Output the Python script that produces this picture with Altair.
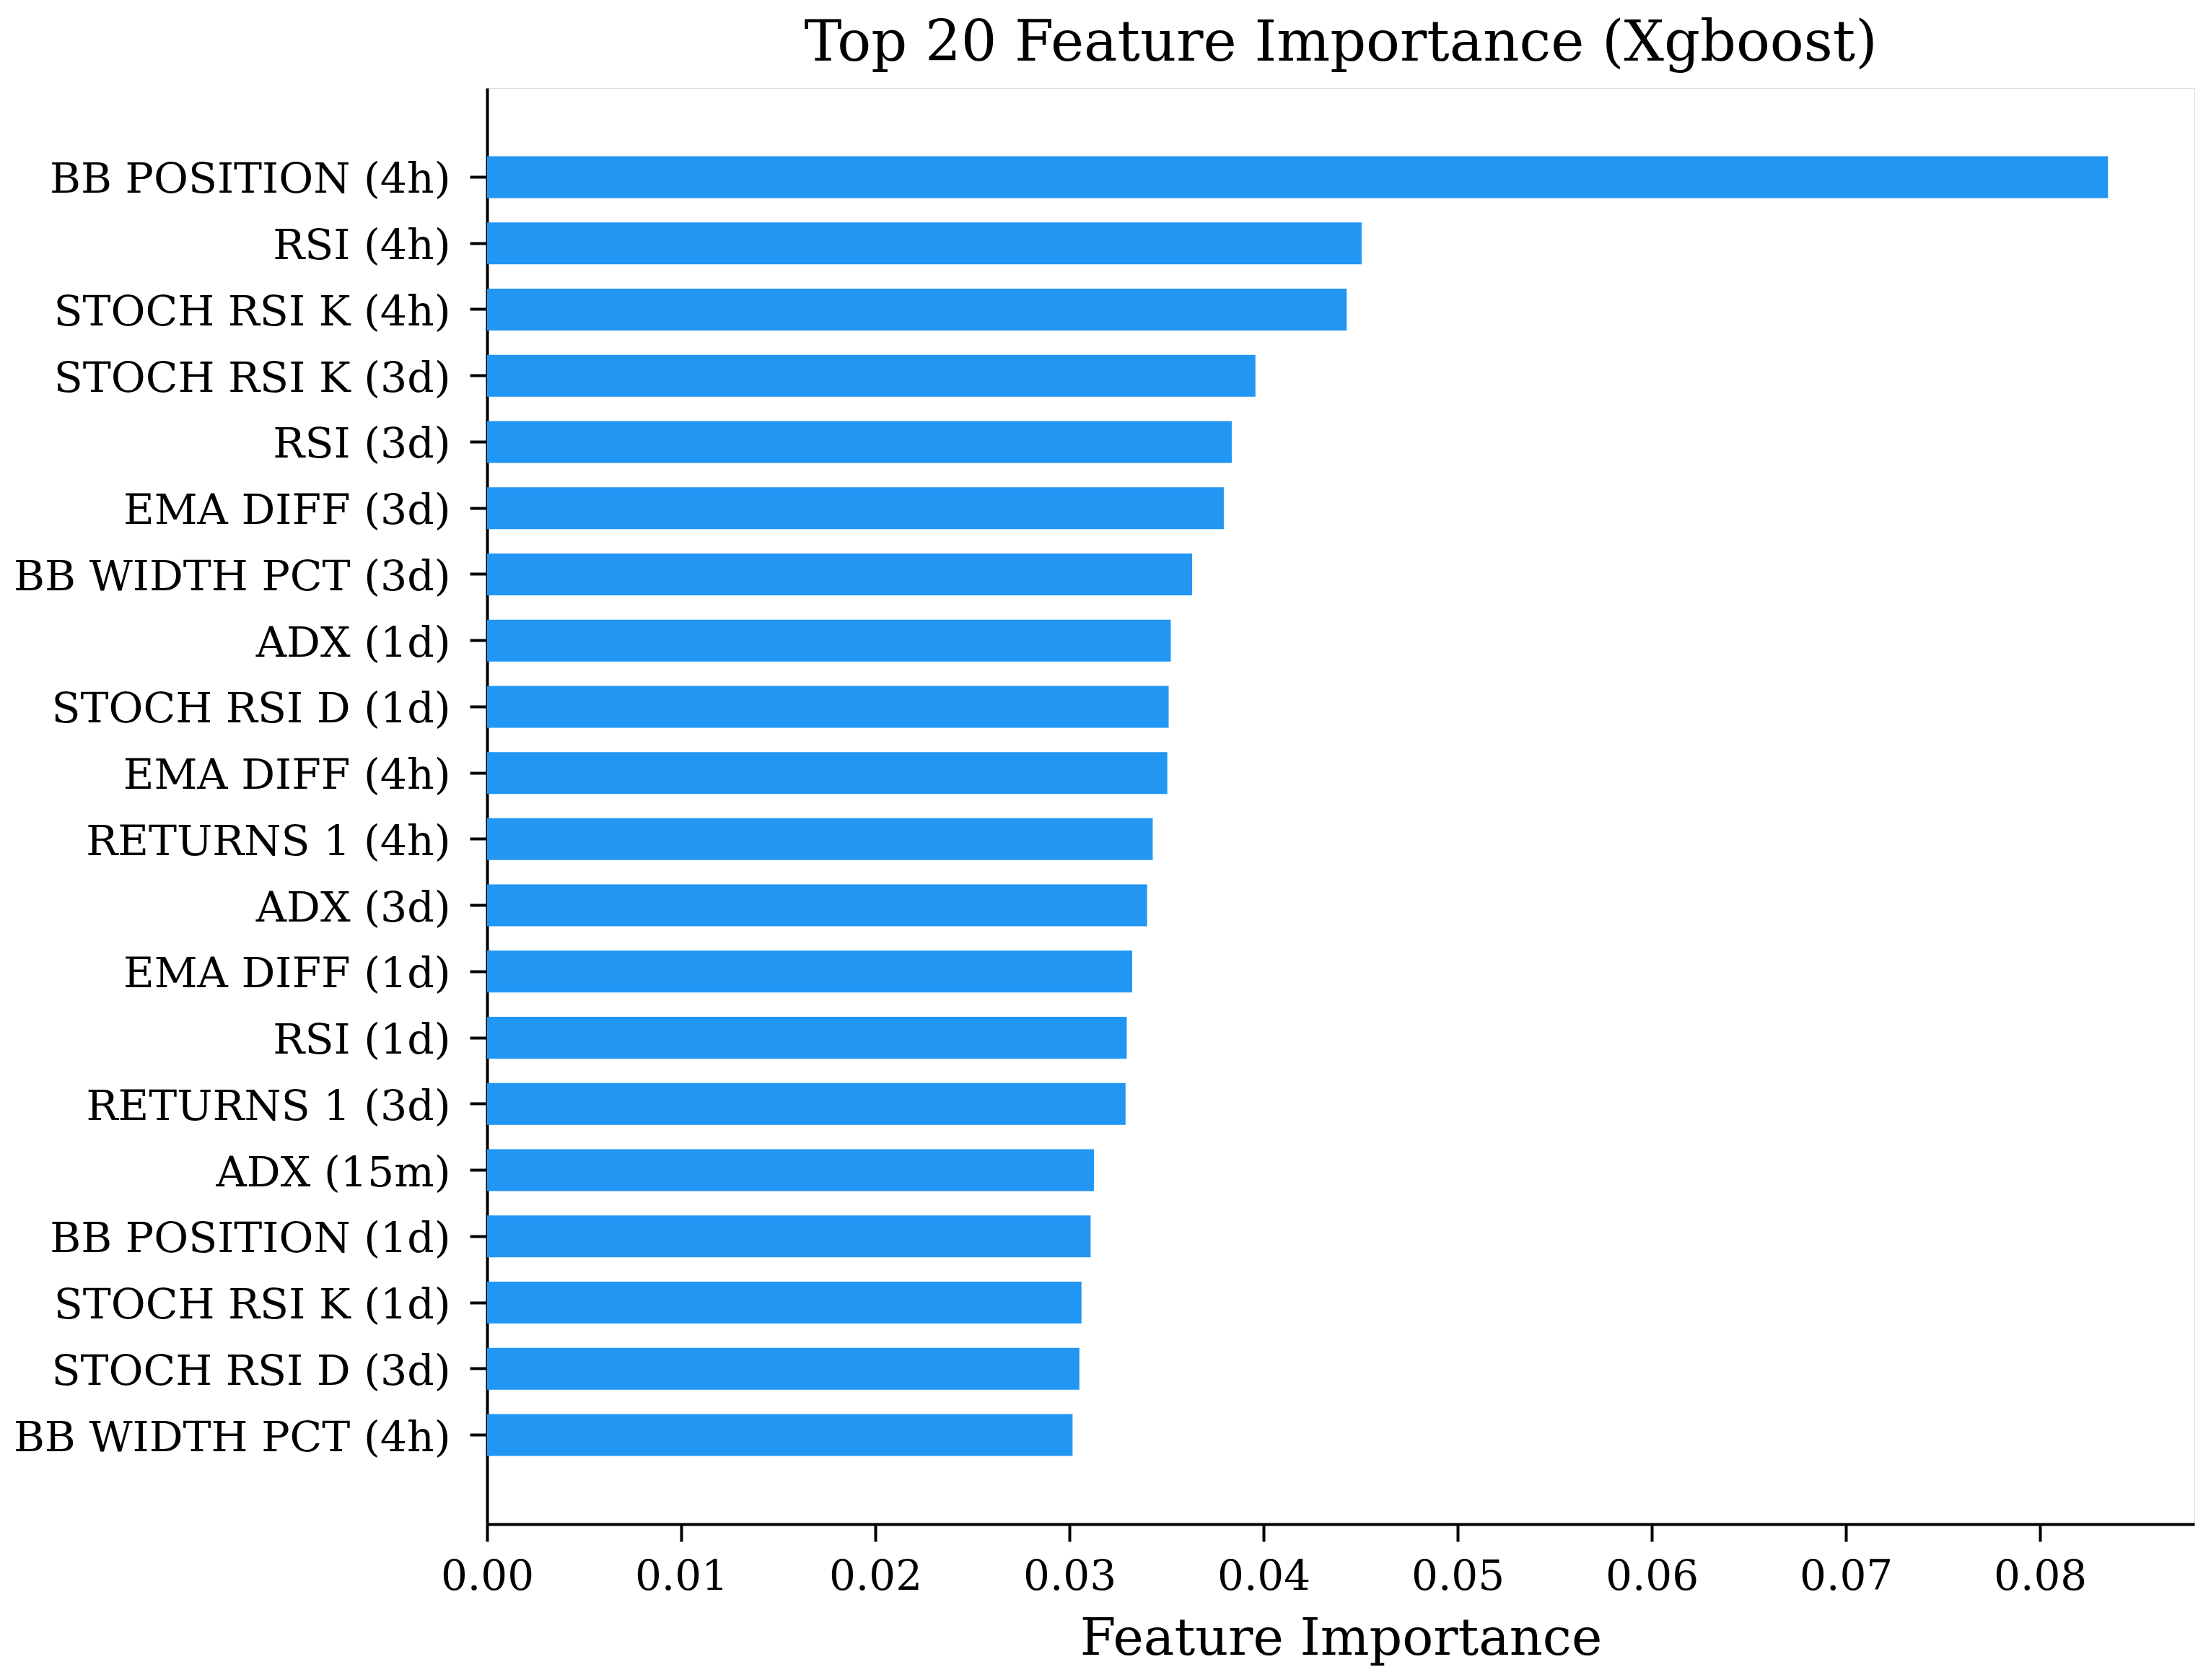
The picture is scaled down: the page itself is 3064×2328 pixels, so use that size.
import altair as alt
import pandas as pd

features = [
    "BB POSITION (4h)", "RSI (4h)", "STOCH RSI K (4h)", "STOCH RSI K (3d)",
    "RSI (3d)", "EMA DIFF (3d)", "BB WIDTH PCT (3d)", "ADX (1d)",
    "STOCH RSI D (1d)", "EMA DIFF (4h)", "RETURNS 1 (4h)", "ADX (3d)",
    "EMA DIFF (1d)", "RSI (1d)", "RETURNS 1 (3d)", "ADX (15m)",
    "BB POSITION (1d)", "STOCH RSI K (1d)", "STOCH RSI D (3d)", "BB WIDTH PCT (4h)",
]
importance = [
    0.0835, 0.04505, 0.04428, 0.03958,
    0.03836, 0.03795, 0.03632, 0.03522,
    0.03511, 0.03504, 0.03429, 0.03400,
    0.03323, 0.03295, 0.03289, 0.03126,
    0.03109, 0.03062, 0.03051, 0.03016,
]
x_ticks = [0.00, 0.01, 0.02, 0.03, 0.04, 0.05, 0.06, 0.07, 0.08]

df = pd.DataFrame({"feature": features, "importance": importance})

FONT = "DejaVu Serif"

chart = alt.Chart(df).mark_bar(color="#2196F3", size=58).encode(
    x=alt.X(
        "importance:Q",
        title="Feature Importance",
        scale=alt.Scale(domain=[0, 0.08795], nice=False, zero=True),
        axis=alt.Axis(
            values=x_ticks,
            format=".2f",
            grid=False,
            domainColor="black",
            domainWidth=4,
            tickColor="black",
            tickWidth=4,
            tickSize=24,
            labelFont=FONT,
            labelFontSize=58,
            labelColor="black",
            labelPadding=20,
            labelFlush=False,
            titleFont=FONT,
            titleFontSize=71.5,
            titleFontWeight="normal",
            titleColor="black",
            titlePadding=22,
        ),
    ),
    y=alt.Y(
        "feature:N",
        title=None,
        sort=features,
        scale=alt.Scale(paddingInner=0.3076, paddingOuter=1),
        axis=alt.Axis(
            grid=False,
            domainColor="black",
            domainWidth=4,
            tickColor="black",
            tickWidth=4,
            tickSize=24,
            labelFont=FONT,
            labelFontSize=58.5,
            labelColor="black",
            labelPadding=27,
            labelOffset=4,
            labelLimit=2000,
        ),
    ),
).properties(
    width=2366,
    height=1990,
    title=alt.TitleParams(
        "Top 20 Feature Importance (Xgboost)",
        font=FONT,
        fontSize=78,
        fontWeight="normal",
        color="black",
        anchor="middle",
        offset=22,
    ),
    autosize=alt.AutoSizeParams(type="none"),
    padding={"left": 667, "top": 114, "right": 10, "bottom": 200},
).configure_view(stroke="transparent", strokeWidth=0).configure(background="white")

chart.save("out.html", embed_options={"renderer": "svg", "actions": False})
